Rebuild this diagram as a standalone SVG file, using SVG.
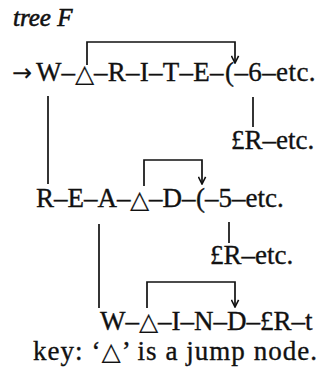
<svg xmlns="http://www.w3.org/2000/svg" width="320" height="375" viewBox="0 0 320 375">
<style>
text{font-family:"Liberation Serif","Times New Roman",serif;font-size:27px;fill:#111;stroke:#111;stroke-width:0.35}
.tri{font-family:"DejaVu Sans",sans-serif;font-size:25px;stroke-width:0.1}
.ar{font-family:"DejaVu Sans",sans-serif;font-size:24px;stroke-width:0.1}
.ti{font-style:italic;font-size:25px;stroke-width:0.6}
.c{fill:none;stroke:#111;stroke-width:1.7}
</style>
<defs>
<marker id="ah" viewBox="0 0 10 10" refX="9" refY="5" markerWidth="9" markerHeight="9" markerUnits="userSpaceOnUse" orient="auto">
<path d="M1,1 L9,5 L1,9" fill="none" stroke="#111" stroke-width="1.8"/>
</marker>
</defs>
<rect width="320" height="375" fill="#fff"/>
<g id="title"><text class="ti" x="13" y="26">tree F</text></g>
<g id="row1"><text x="12" y="81"><tspan class="ar">→</tspan><tspan x="36">W–</tspan><tspan class="tri" x="75" y="82">△</tspan><tspan x="94" y="81" letter-spacing="0.25">–R–I–T–E–</tspan><tspan x="225" letter-spacing="0.4">(–6–etc.</tspan></text></g>
<g id="leaf1"><text x="231" y="149">£R–etc.</text></g>
<g id="row2"><text x="36" y="207">R–E–A–<tspan class="tri" x="130" y="208">△</tspan><tspan x="149" y="207">–D–</tspan><tspan x="196">(–5–etc.</tspan></text></g>
<g id="leaf2"><text x="210" y="264">£R–etc.</text></g>
<g id="row3"><text x="100" y="330">W–<tspan class="tri" x="139" y="330">△</tspan><tspan x="158" y="330">–I–N–D–£R–t</tspan></text></g>
<g id="key"><text x="33" y="360" textLength="284" lengthAdjust="spacing">key: ‘<tspan class="tri">△</tspan>’ is a jump node.</text></g>
<g id="connectors">
<path class="c" d="M87,65 V42 H235 V63" marker-end="url(#ah)"/>
<path class="c" d="M48,96 V184"/>
<path class="c" d="M253,97 V127"/>
<path class="c" d="M144,186 V160 H202 V184" marker-end="url(#ah)"/>
<path class="c" d="M99,224 V308"/>
<path class="c" d="M229,222 V243"/>
<path class="c" d="M147,308 V282 H235 V307" marker-end="url(#ah)"/>
</g>
</svg>
